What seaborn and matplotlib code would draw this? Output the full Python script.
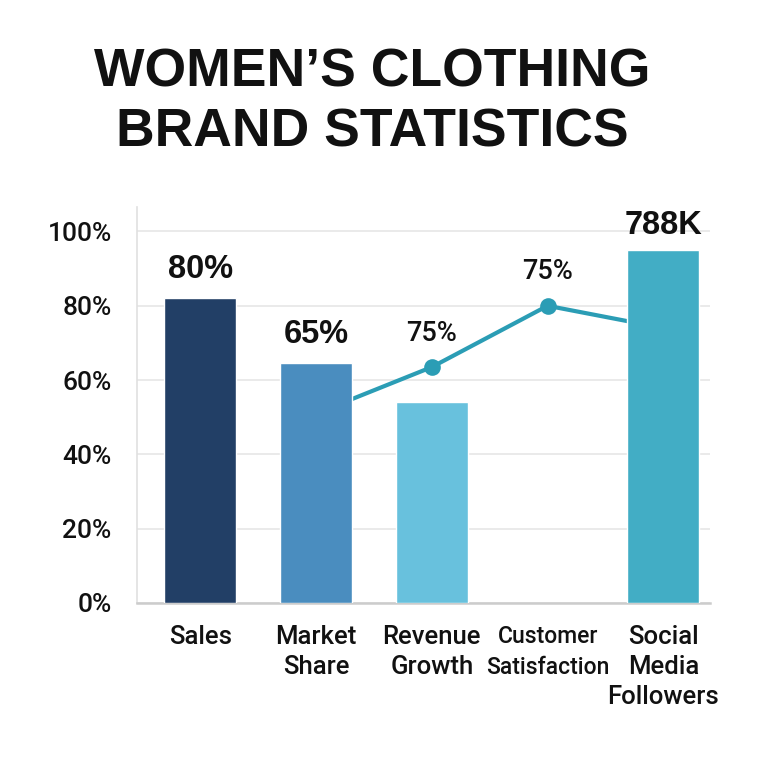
import matplotlib
matplotlib.use("Agg")
import matplotlib.pyplot as plt
import numpy as np
import pandas as pd
import seaborn as sns

# chart data
categories = ["Sales", "Market\nShare", "Revenue\nGrowth", "Customer\nSatisfaction", "Social\nMedia\nFollowers"]
bar_values = [82, 64.5, 54, np.nan, 95]
bar_labels = ["80%", "65%", "", "", "788K"]
line_values = [np.nan, 51, 63.5, 80, 74]
line_labels = ["", "", "75%", "75%", ""]
bar_colors = ["#223F66", "#4A8DBF", "#68C1DD", "#FFFFFF", "#42ADC5"]
y_ticks = [0, 20, 40, 60, 80, 100]
y_tick_labels = ["0%", "20%", "40%", "60%", "80%", "100%"]
title = "WOMEN\u2019S CLOTHING\nBRAND STATISTICS"

LINE_COLOR = "#2B9DB5"
TICK_FONT = ["Roboto", "Liberation Sans", "DejaVu Sans"]


def main():
    sns.set_style("white")
    plt.rcParams["font.family"] = ["Liberation Sans", "DejaVu Sans"]

    df = pd.DataFrame({"category": categories, "value": bar_values, "line": line_values})
    pos = np.arange(len(categories))

    fig = plt.figure(figsize=(7.68, 7.68), dpi=100)
    ax = fig.add_axes([0.178, 0.215, 0.746, 0.515])

    ax.set_axisbelow(True)
    ax.yaxis.grid(True, color="#e6e6e6", linewidth=1.2)

    # line sits behind the bars
    sns.lineplot(x=pos, y=df["line"], ax=ax, color=LINE_COLOR, linewidth=3,
                 marker="o", markersize=12, markeredgewidth=0, zorder=2)

    sns.barplot(data=df, x="category", y="value", hue="category", palette=bar_colors,
                legend=False, width=0.62, ax=ax, zorder=3, saturation=1)

    for i, (v, lab) in enumerate(zip(bar_values, bar_labels)):
        if lab:
            ax.text(i, v + (2.5 if v > 90 else 3.5), lab, ha="center", va="bottom", fontsize=23.5,
                    fontweight="bold", color="#111111", zorder=5)
    for i, (v, lab) in enumerate(zip(line_values, line_labels)):
        if lab:
            ax.text(i, v + 5.5, lab, ha="center", va="bottom", fontsize=19.5,
                    family=TICK_FONT, fontweight="medium", color="#111111", zorder=5)

    ax.set_xlim(-0.55, 4.4)
    ax.set_ylim(0, 106.5)
    ax.set_yticks(y_ticks)
    ax.set_yticklabels(y_tick_labels, fontsize=19, color="#111111",
                       family=TICK_FONT, fontweight="medium")
    ax.set_xticks(pos)
    ax.set_xticklabels(categories, fontsize=18.5, color="#111111", linespacing=1.3, va="top",
                       family=TICK_FONT, fontweight="medium")
    for t in ax.get_xticklabels():
        if "Satisfaction" in t.get_text():
            t.set_fontsize(16.5)
            t.set_linespacing(1.45)
    ax.tick_params(axis="both", length=0)
    ax.tick_params(axis="x", pad=16)
    ax.tick_params(axis="y", pad=18)
    ax.set_xlabel("")
    ax.set_ylabel("")

    for side in ["top", "right"]:
        ax.spines[side].set_visible(False)
    ax.spines["left"].set_color("#e0e0e0")
    ax.spines["left"].set_linewidth(1.2)
    ax.spines["bottom"].set_color("#cccccc")
    ax.spines["bottom"].set_linewidth(1.8)

    fig.text(0.485, 0.867, title, ha="center", va="center", fontsize=38.5,
             fontweight="bold", color="#111111", linespacing=1.26)

    fig.savefig("out.png", dpi=100, facecolor="white")


if __name__ == "__main__":
    main()
